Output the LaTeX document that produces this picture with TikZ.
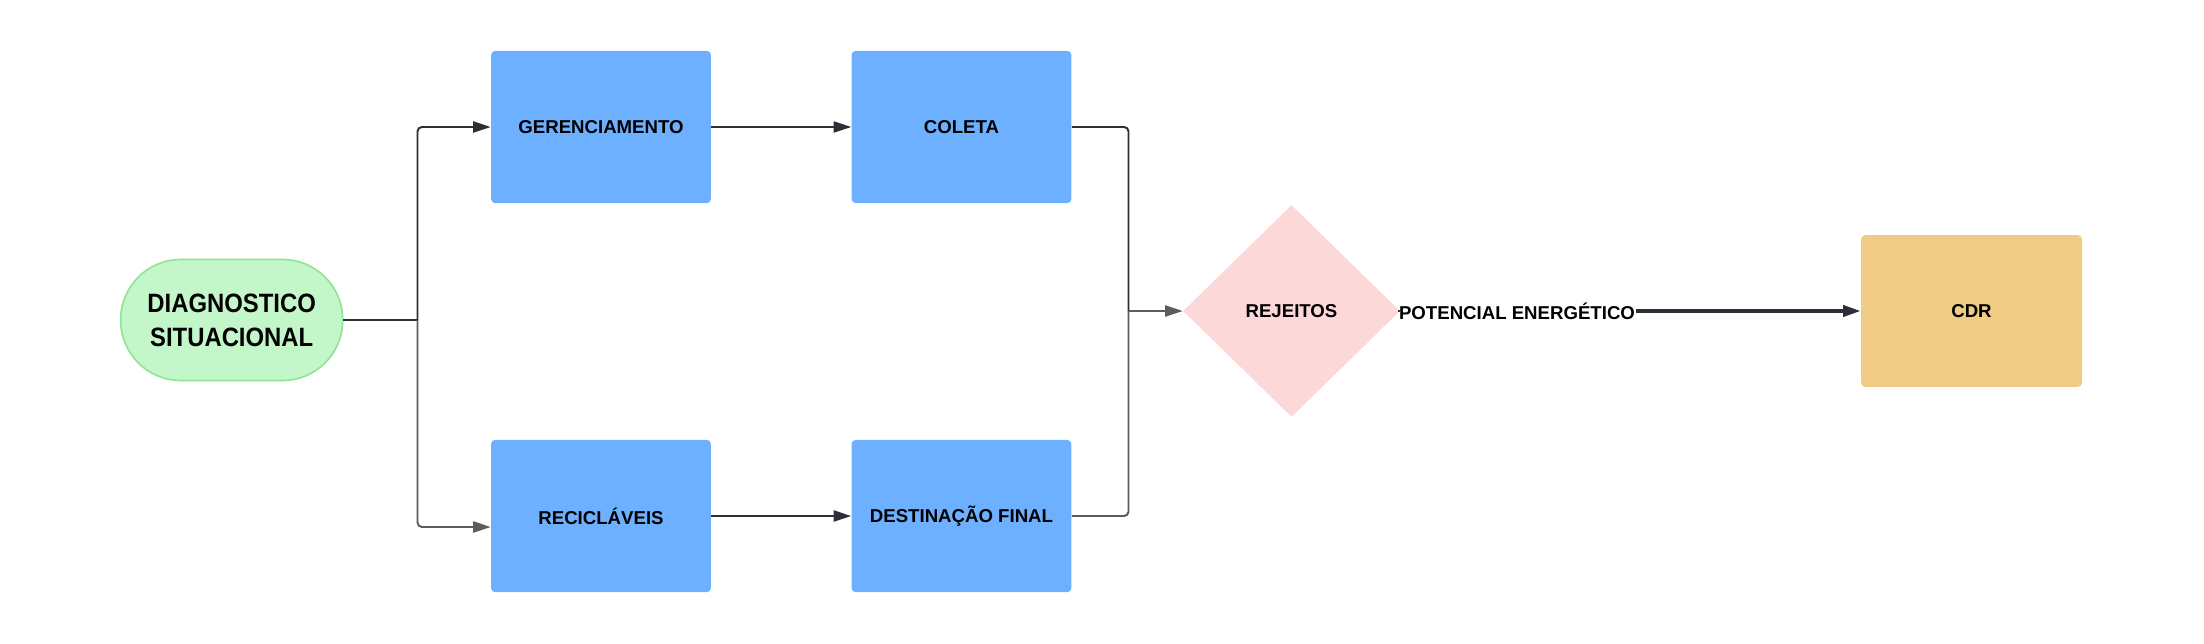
\documentclass[tikz,border=0pt]{standalone}
\usepackage{fontspec}
\setmainfont{Liberation Sans}
\newfontfamily\boxfont{Liberation Sans}
\newfontfamily\startfont[FakeStretch=0.9]{Liberation Sans}
\usepackage{tikz}
\usetikzlibrary{arrows.meta, shapes.geometric, calc}

\definecolor{boxblue}{HTML}{6DB0FF}
\definecolor{startgreen}{HTML}{C3F6C8}
\definecolor{startedge}{HTML}{8FE394}
\definecolor{rejpink}{HTML}{FCD8D8}
\definecolor{cdrgold}{HTML}{F0CB84}
\definecolor{linkdark}{HTML}{2C3036}
\definecolor{linkgray}{HTML}{5C5C5C}

\tikzset{
    stepbox/.style={rectangle, rounded corners=2.5pt, fill=boxblue, minimum width=4.4cm, minimum height=3.05cm, inner sep=0pt, font=\boxfont\bfseries\fontsize{10.6}{12}\selectfont},
    link/.style={draw=linkdark, line width=1.1pt, rounded corners=2.5pt, -{Triangle[length=10pt, width=6.3pt]}},
    grlink/.style={link, draw=linkgray, -{Triangle[length=10pt, width=6.3pt, fill=linkgray]}}
}

\begin{document}
\begin{tikzpicture}[x=0.02cm, y=-0.02cm]
        \useasboundingbox (0,0) rectangle (2204,643);

        \node[rectangle, rounded corners=1.2cm, fill=startgreen, draw=startedge, line width=0.9pt, minimum width=4.44cm, minimum height=2.42cm, align=center, font=\startfont\bfseries\fontsize{15.1}{19.3}\selectfont] (diag) at (231.7,320) {DIAGNOSTICO\\SITUACIONAL};

        \node[stepbox] (gerenc) at (601,127) {GERENCIAMENTO};
        \node[stepbox] (coleta) at (961.5,127) {COLETA};
        \node[stepbox] (recic) at (601,516) {RECICLÁVEIS};
        \node[stepbox] (destino) at (961.5,516) {DESTINAÇÃO FINAL};

        \node[diamond, fill=rejpink, minimum width=4.34cm, minimum height=4.24cm, inner sep=0pt, font=\boxfont\bfseries\fontsize{10.6}{12}\selectfont] (rejeitos) at (1291.5,311) {REJEITOS};

        \node[rectangle, rounded corners=2.5pt, fill=cdrgold, minimum width=4.42cm, minimum height=3.04cm, font=\boxfont\bfseries\fontsize{10.6}{12}\selectfont] (cdr) at (1971.5,311) {CDR};

        \node[fill=white, inner xsep=0.5pt, inner ysep=2pt, font=\boxfont\bfseries\fontsize{10.6}{12}\selectfont] (potencial) at (1517,311) {POTENCIAL ENERGÉTICO};

        \coordinate (split) at (417.5,320);
        \coordinate (merge) at (1128.5,311);

        \draw[link, -] (diag.east) -- (split);
        \draw[link] (split) |- (gerenc.west);
        \draw[grlink] (split) |- ([yshift=-0.22cm]recic.west);
        \draw[link] (gerenc) -- (coleta);
        \draw[link] (recic) -- (destino);
        \draw[link, -] (coleta.east) -| (merge);
        \draw[grlink, -] (destino.east) -| (merge);
        \draw[grlink] (merge) -- (rejeitos.west);
        \draw[draw=linkdark, line width=1.1pt] (rejeitos.east) -- (potencial.west);
        \draw[link, line width=2pt] (potencial.east) -- (cdr.west);

    \end{tikzpicture}
\end{document}
